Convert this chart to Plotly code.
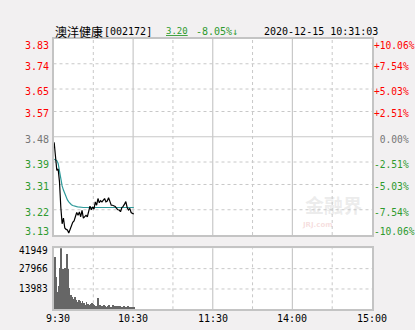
import plotly.graph_objects as go

W, H = 415, 330

# ---------------- data ----------------
prev_close = 3.48
price_levels = [3.83, 3.74, 3.65, 3.57, 3.48, 3.39, 3.31, 3.22, 3.13]
pct_labels = ["+10.06%", "+7.54%", "+5.03%", "+2.51%", " 0.00%", "-2.51%", "-5.03%", "-7.54%", "-10.06%"]
price_min, price_max = 3.13, 3.83

vol_levels = [41949, 27966, 13983]
vol_max = 41949

time_ticks = [0, 60, 120, 180, 240]
time_labels = ["9:30", "10:30", "11:30", "14:00", "15:00"]

# minutes since 9:30 (bin centres), 9:31 .. 10:31
minutes = [m - 0.5 for m in range(1, 62)]

price = [3.46, 3.40, 3.36, 3.365, 3.32, 3.23, 3.17, 3.19, 3.155, 3.15,
         3.148, 3.137, 3.15, 3.158, 3.175, 3.18, 3.195, 3.21, 3.20, 3.212,
         3.195, 3.218, 3.19, 3.196, 3.20, 3.195, 3.218, 3.233, 3.22, 3.23,
         3.222, 3.248, 3.236, 3.26, 3.245, 3.252, 3.248, 3.256, 3.26, 3.248,
         3.251, 3.263, 3.25, 3.236, 3.236, 3.233, 3.232, 3.225, 3.22, 3.219,
         3.213, 3.228, 3.232, 3.24, 3.249, 3.228, 3.219, 3.225, 3.21, 3.207,
         3.205]

avg_price = [3.40, 3.398, 3.395, 3.385, 3.36, 3.325, 3.305, 3.29, 3.276, 3.265,
             3.255, 3.248, 3.242, 3.238, 3.235, 3.233, 3.232, 3.231, 3.230, 3.229,
             3.229, 3.228, 3.228, 3.228, 3.228, 3.228, 3.228, 3.228, 3.228, 3.228,
             3.228, 3.228, 3.229, 3.229, 3.229, 3.229, 3.229, 3.229, 3.229, 3.229,
             3.229, 3.229, 3.229, 3.229, 3.229, 3.229, 3.229, 3.229, 3.229, 3.229,
             3.228, 3.228, 3.228, 3.228, 3.228, 3.228, 3.228, 3.228, 3.228, 3.228,
             3.228]

volume = [35500, 21800, 12000, 15500, 28000, 41900, 27500, 25500, 28000, 37800,
          27800, 14500, 9500, 8000, 7000, 8500, 6500, 4800, 6000, 5200,
          3800, 5500, 4200, 3000, 4800, 3200, 2600, 3500, 4000, 3600,
          2500, 2300, 2000, 7300, 3000, 2200, 1800, 3000, 2000, 1500,
          2200, 2500, 1700, 1400, 2600, 1800, 2000, 1500, 2100, 1900,
          1600, 1700, 2200, 1300, 1600, 2000, 1400, 1200, 1500, 1300, 900]

# ---------------- styles ----------------
RED = "#ff0000"
GREEN = "#2e9a2e"
GRAY = "#777777"
GRID = "#c8c8c8"
BORDER = "#c4c4c4"
BG = "#f2f0f1"
MONO = "DejaVu Sans Mono, monospace"
CJK = "Noto Sans CJK SC, sans-serif"
DASH = "3px,3px"


def px_x(p):
    return p / W


def px_y(p):
    return 1 - p / H


x_dom = [px_x(53.5), px_x(372)]
price_dom = [px_y(235), px_y(38.5)]
vol_dom = [px_y(309.3), px_y(248.3)]

fig = go.Figure()

fig.add_trace(go.Scatter(x=minutes, y=avg_price, mode="lines",
                         line=dict(color="#2f9a9a", width=1.2),
                         xaxis="x", yaxis="y", hoverinfo="skip"))
fig.add_trace(go.Scatter(x=minutes, y=price, mode="lines",
                         line=dict(color="#000000", width=1.2),
                         xaxis="x", yaxis="y", hoverinfo="skip"))
fig.add_trace(go.Bar(x=minutes, y=volume, width=0.7,
                     marker=dict(color="#666666", line=dict(width=0)),
                     xaxis="x2", yaxis="y2", hoverinfo="skip"))

axis_common = dict(showgrid=False, zeroline=False, showticklabels=False,
                   ticks="", showline=True, mirror=True,
                   linecolor=BORDER, linewidth=1.5, fixedrange=True)

fig.update_layout(
    width=W, height=H,
    margin=dict(l=0, r=0, t=0, b=0),
    paper_bgcolor=BG, plot_bgcolor="#ffffff",
    showlegend=False, bargap=0,
    xaxis=dict(domain=x_dom, range=[0, 240], anchor="y", **axis_common),
    yaxis=dict(domain=price_dom, range=[price_min, price_max], anchor="x", **axis_common),
    xaxis2=dict(domain=x_dom, range=[0, 240], anchor="y2", **axis_common),
    yaxis2=dict(domain=vol_dom, range=[0, vol_max], anchor="x2", **axis_common),
)

shapes = []
# vertical gridlines
for t in range(30, 240, 30):
    solid = (t % 60 == 0)
    for xr, yr in (("x", "y"), ("x2", "y2")):
        shapes.append(dict(type="line", xref=xr, yref=yr + " domain",
                           x0=t, x1=t, y0=0, y1=1, layer="below",
                           line=dict(color=GRID, width=1.2 if solid else 1,
                                     dash="solid" if solid else DASH)))
# horizontal gridlines price
for lv in price_levels[1:-1]:
    solid = abs(lv - prev_close) < 1e-9
    shapes.append(dict(type="line", xref="x domain", yref="y",
                       x0=0, x1=1, y0=lv, y1=lv, layer="below",
                       line=dict(color=GRID, width=1.2 if solid else 1,
                                 dash="solid" if solid else DASH)))
# horizontal gridlines volume
for lv in vol_levels[1:]:
    shapes.append(dict(type="line", xref="x2 domain", yref="y2",
                       x0=0, x1=1, y0=lv, y1=lv, layer="below",
                       line=dict(color=GRID, width=1, dash=DASH)))
fig.update_layout(shapes=shapes)

ann = []
n = len(price_levels)
for i, (lv, pl) in enumerate(zip(price_levels, pct_labels)):
    if lv > prev_close + 1e-9:
        col = RED
    elif abs(lv - prev_close) < 1e-9:
        col = GRAY
    else:
        col = GREEN
    if i == 0:
        ys = -6.5
    elif i == n - 1:
        ys = 3.5
    else:
        ys = -2.5
    ann.append(dict(xref="paper", yref="y", x=px_x(50.5), y=lv, yshift=ys,
                    text=f"{lv:.2f}", showarrow=False, xanchor="right", yanchor="middle",
                    font=dict(family=MONO, size=10, color=col)))
    ann.append(dict(xref="paper", yref="y", x=px_x(372), y=lv, yshift=ys,
                    text=pl, showarrow=False, xanchor="left", yanchor="middle",
                    font=dict(family=MONO, size=9.6, color=col)))

for i, lv in enumerate(vol_levels):
    ann.append(dict(xref="paper", yref="y2", x=px_x(50), y=lv, yshift=(-2 if i == 0 else 0),
                    text=str(lv), showarrow=False, xanchor="right", yanchor="middle",
                    font=dict(family="DejaVu Sans Condensed, sans-serif", size=10, color="#000000")))

for t, lab in zip(time_ticks, time_labels):
    xs = 4 if t == 0 else 0
    ann.append(dict(xref="x2", yref="paper", x=t, xshift=xs, y=px_y(318.5),
                    text=lab, showarrow=False, xanchor="center", yanchor="middle",
                    font=dict(family=MONO, size=10, color="#000000")))

# header
hy = px_y(31)
ann.append(dict(xref="paper", yref="paper", x=px_x(53), y=hy, text="澳洋健康",
                showarrow=False, xanchor="left", yanchor="middle",
                font=dict(family=CJK, size=12, color="#000000")))
ann.append(dict(xref="paper", yref="paper", x=px_x(101.5), y=hy, text="[002172]",
                showarrow=False, xanchor="left", yanchor="middle",
                font=dict(family=MONO, size=10, color="#000000")))
ann.append(dict(xref="paper", yref="paper", x=px_x(163.5), y=hy, text="<u>3.20</u>",
                showarrow=False, xanchor="left", yanchor="middle",
                font=dict(family=MONO, size=9, color=GREEN)))
ann.append(dict(xref="paper", yref="paper", x=px_x(193.5), y=hy, text="-8.05%↓",
                showarrow=False, xanchor="left", yanchor="middle",
                font=dict(family=MONO, size=10, color=GREEN)))
ann.append(dict(xref="paper", yref="paper", x=px_x(261.5), y=hy, text="2020-12-15 10:31:03",
                showarrow=False, xanchor="left", yanchor="middle",
                font=dict(family=MONO, size=10, color="#000000")))

# watermark
ann.append(dict(xref="paper", yref="paper", x=px_x(333), y=px_y(204), text="<b>金融界</b>",
                showarrow=False, xanchor="center", yanchor="middle",
                font=dict(family=CJK, size=19, color="rgba(200,200,200,0.35)")))
ann.append(dict(xref="paper", yref="paper", x=px_x(300), y=px_y(225), text="<b>JRJ.com</b>",
                showarrow=False, xanchor="left", yanchor="middle",
                font=dict(family="DejaVu Sans, sans-serif", size=7, color="rgba(230,160,160,0.35)")))

fig.update_layout(annotations=ann)

fig.write_html("out.html")
